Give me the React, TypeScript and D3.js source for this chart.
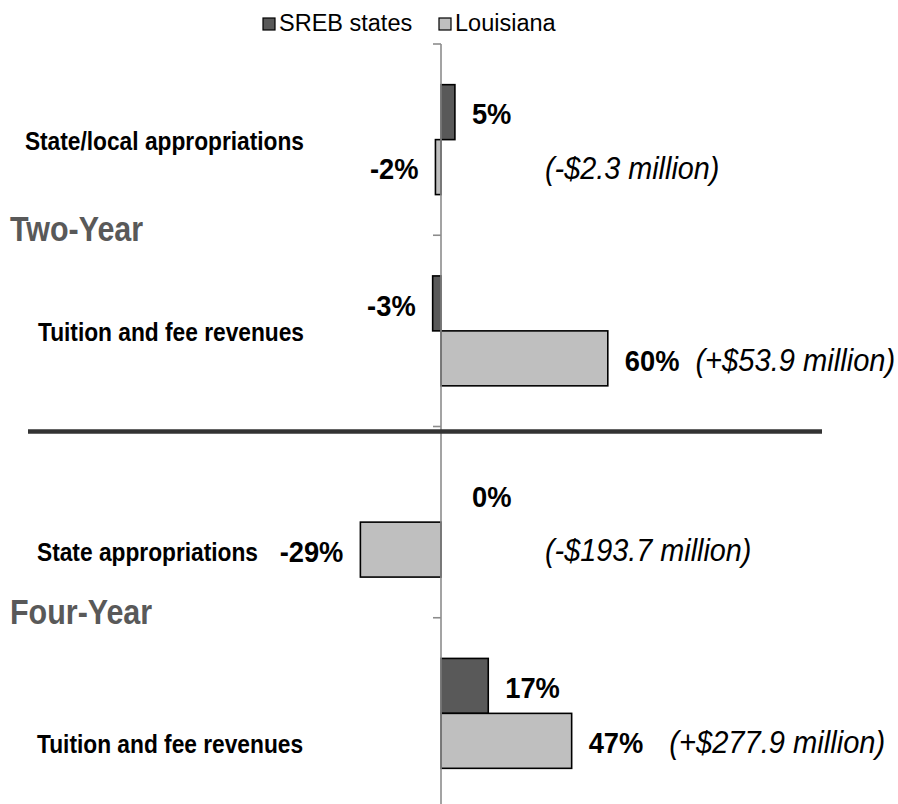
import React from "react";
import * as d3 from "d3";

// chart data
const categories = [
  "State/local appropriations",
  "Tuition and fee revenues",
  "State appropriations",
  "Tuition and fee revenues",
];
const groups = ["Two-Year", "Four-Year"];
const groupOf = [0, 0, 1, 1];
const series = ["SREB states", "Louisiana"];
const srebValues = [5, -3, 0, 17];
const louisianaValues = [-2, 60, -29, 47];
const louisianaNotes = [
  "(-$2.3 million)",
  "(+$53.9 million)",
  "(-$193.7 million)",
  "(+$277.9 million)",
];

const W = 898;
const H = 804;
const colors = ["#595959", "#bfbfbf"];
const font = "'Liberation Sans', Arial, sans-serif";

export default function App() {
  const idx = categories.map((_, i) => i);
  const x = d3.scaleLinear().domain([-100, 100]).range([163, 719]);
  const y = d3.scaleBand<number>().domain(idx).range([44, 809]).padding(0);
  const inner = d3
    .scaleBand<string>()
    .domain(series)
    .range([0, y.bandwidth()])
    .paddingInner(0)
    .paddingOuter(0.74);

  const values = [srebValues, louisianaValues];
  const ticks = [...idx.map((i) => y(i)!), y.range()[1]];

  // text styles: [fontSize, horizontal squeeze]
  const catF = 26, catS = 0.875;
  const grpF = 35, grpS = 0.87;
  const valF = 30, valS = 0.91;
  const noteF = 32, noteS = 0.9;

  const barMid = (s: number, i: number) =>
    y(i)! + inner(series[s])! + inner.bandwidth() / 2;

  const valueLabel = (s: number, i: number) => {
    const v = values[s][i];
    const cy = barMid(s, i) + 1.5;
    const base = cy + 0.358 * valF;
    let lx: number, anchor: string;
    if (v > 0) {
      lx = x(v) + 17;
      anchor = "start";
    } else if (v < 0) {
      lx = x(v) - 17;
      anchor = "end";
    } else {
      lx = x(0) + 31;
      anchor = "start";
    }
    const withNote = s === 1 && v > 0;
    const gap = i === 3 ? 26 : 16;
    return (
      <g key={`v${s}-${i}`} transform={`translate(${lx},${base}) scale(${valS},1)`}>
        <text
          textAnchor={anchor}
          fontFamily={font}
          fontSize={valF}
          fontWeight="bold"
          fill="#000"
        >
          {`${v}%`}
          {withNote && (
            <tspan
              dx={gap / valS}
              fontWeight="normal"
              fontStyle="italic"
              fontSize={noteF}
              transform=""
            >
              {louisianaNotes[i]}
            </tspan>
          )}
        </text>
      </g>
    );
  };

  return (
    <svg
      width={W}
      height={H}
      style={{ position: "absolute", left: 0, top: 0, background: "#fff" }}
    >
      {/* legend */}
      {series.map((s, k) => {
        const lx = k === 0 ? 263 : 439;
        return (
          <g key={s}>
            <rect
              x={lx}
              y={18}
              width={12}
              height={12}
              fill={colors[k]}
              stroke="#000"
              strokeWidth={1.2}
            />
            <text x={lx + 16} y={31} fontFamily={font} fontSize={23.5} fill="#000">
              {s}
            </text>
          </g>
        );
      })}

      {/* bars */}
      {series.map((s, k) =>
        idx.map((i) => {
          const v = values[k][i];
          return (
            <rect
              key={`b${k}-${i}`}
              x={x(Math.min(0, v))}
              y={y(i)! + inner(s)!}
              width={Math.abs(x(v) - x(0))}
              height={inner.bandwidth()}
              fill={colors[k]}
              stroke="#000"
              strokeWidth={1.6}
            />
          );
        })
      )}

      {/* vertical axis */}
      <line x1={x(0)} x2={x(0)} y1={ticks[0]} y2={H} stroke="#8c8c8c" strokeWidth={1.6} />
      {ticks.map((t, j) => (
        <line key={j} x1={x(0) - 8} x2={x(0)} y1={t} y2={t} stroke="#8c8c8c" strokeWidth={1.6} />
      ))}

      {/* separator between groups */}
      <line x1={28} x2={822} y1={y(2)! + 5} y2={y(2)! + 5} stroke="#333" strokeWidth={4.5} />

      {/* category labels */}
      {idx.map((i) => {
        const g = groupOf[i];
        const cy = y(i)! + y.bandwidth() / 2 + (g === 1 ? 30 : 1);
        const lx = g === 0 ? 304 : 37;
        return (
          <g key={`c${i}`} transform={`translate(${lx},${cy + 0.358 * catF}) scale(${catS},1)`}>
            <text
              textAnchor={g === 0 ? "end" : "start"}
              fontFamily={font}
              fontSize={catF}
              fontWeight="bold"
              fill="#000"
            >
              {categories[i]}
            </text>
          </g>
        );
      })}

      {/* group labels */}
      {groups.map((gname, g) => {
        const last = idx.filter((i) => groupOf[i] === g)[1];
        return (
          <g key={gname} transform={`translate(10,${y(last)! + 6}) scale(${grpS},1)`}>
            <text fontFamily={font} fontSize={grpF} fontWeight="bold" fill="#595959">
              {gname}
            </text>
          </g>
        );
      })}

      {/* value labels */}
      {series.map((_, k) => idx.map((i) => valueLabel(k, i)))}

      {/* notes for negative Louisiana values */}
      {idx
        .filter((i) => louisianaValues[i] <= 0)
        .map((i) => (
          <g
            key={`n${i}`}
            transform={`translate(545,${barMid(1, i) + 0.358 * noteF}) scale(${noteS},1)`}
          >
            <text fontFamily={font} fontSize={noteF} fontStyle="italic" fill="#000">
              {louisianaNotes[i]}
            </text>
          </g>
        ))}
    </svg>
  );
}
